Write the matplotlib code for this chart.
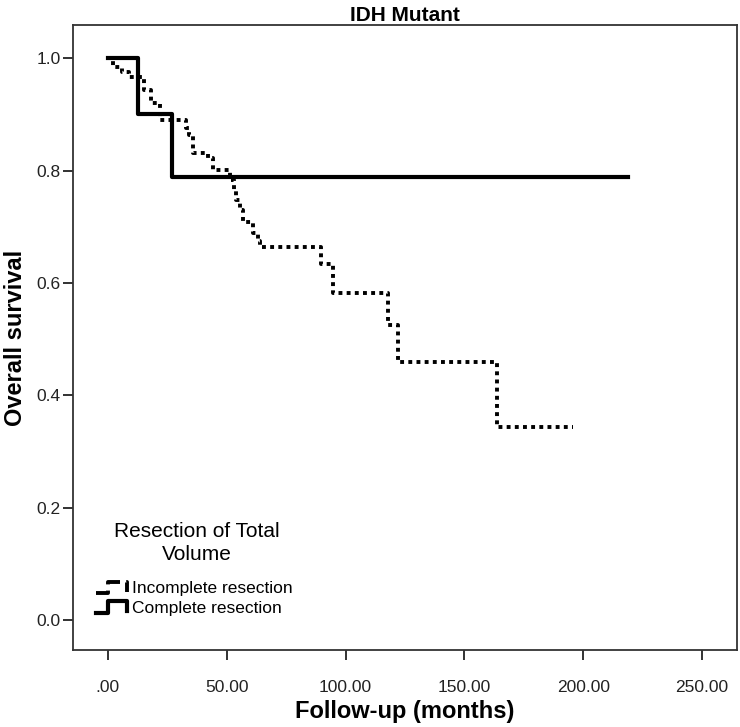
import matplotlib.pyplot as plt
from matplotlib.lines import Line2D
from matplotlib.legend_handler import HandlerBase

# Datos (Kaplan-Meier, IDH mutante)
t_incompleta = [0, 2, 6, 9, 15, 18, 22, 33, 34, 36, 42, 44, 51.5, 53, 54,
                55.5, 57, 61, 63, 64, 89.5, 94.7, 117.8, 122, 163.8, 195.7]
s_incompleta = [1.0, 0.984, 0.975, 0.966, 0.943, 0.920, 0.890, 0.875, 0.863,
                0.831, 0.822, 0.801, 0.783, 0.765, 0.747, 0.730, 0.708, 0.689,
                0.675, 0.664, 0.633, 0.582, 0.525, 0.459, 0.343, 0.343]

t_completa = [0, 12.6, 27.0, 219.0]
s_completa = [1.0, 0.900, 0.788, 0.788]

xticks = [0, 50, 100, 150, 200, 250]
xticklabels = [".00", "50.00", "100.00", "150.00", "200.00", "250.00"]
yticks = [0.0, 0.2, 0.4, 0.6, 0.8, 1.0]

plt.rcParams['font.family'] = ['Liberation Sans', 'DejaVu Sans']
fuente_titulo = ['Liberation Sans Narrow', 'Liberation Sans', 'DejaVu Sans']

W, H = 740, 727  # tamaño en píxeles


class HandlerEscalon(HandlerBase):
    """Icono de leyenda con forma de escalón, como en SPSS."""
    def create_artists(self, legend, orig_handle, xdescent, ydescent,
                       width, height, fontsize, trans):
        xs = [0, 0.35 * width, 0.35 * width, 0.9 * width, 0.9 * width]
        ys = [0.1 * height, 0.1 * height, 0.9 * height, 0.9 * height, 0.2 * height]
        ln = Line2D([x - xdescent for x in xs], [y - ydescent for y in ys],
                    color=orig_handle.get_color(),
                    linestyle=orig_handle.get_linestyle(),
                    linewidth=orig_handle.get_linewidth(),
                    transform=trans)
        ln.set_dash_capstyle('butt')
        return [ln]


fig = plt.figure(figsize=(W / 100, H / 100), dpi=100)
ax = fig.add_axes([73 / W, 1 - 650 / H, 664 / W, 625 / H])

l1, = ax.step(t_incompleta, s_incompleta, where='post', color='black',
              linewidth=2.8, linestyle=(0, (1, 1.1)), label='Incomplete resection')
l1.set_dash_capstyle('butt')
l2, = ax.step(t_completa, s_completa, where='post', color='black',
              linewidth=3.0, label='Complete resection')

ax.set_xlim(-14.7, 264.7)
ax.set_ylim(-0.053, 1.059)
ax.set_xticks(xticks)
ax.set_xticklabels(xticklabels)
ax.set_yticks(yticks)
ax.set_yticklabels([f"{v:.1f}" for v in yticks])
ax.tick_params(direction='out', length=7.5, width=1.3, labelsize=12.5, colors='#222222')
ax.tick_params(axis='x', pad=14)
ax.tick_params(axis='y', pad=1.5)

for sp in ax.spines.values():
    sp.set_linewidth(1.3)
    sp.set_color('#333333')

ax.set_title("IDH Mutant", fontsize=15, fontweight='bold', family=fuente_titulo, pad=3)
ax.set_xlabel("Follow-up (months)", fontsize=17, fontweight='bold', family=fuente_titulo, labelpad=4)
ax.set_ylabel("Overall survival", fontsize=17, fontweight='bold', family=fuente_titulo)
ax.yaxis.set_label_coords((27 - 73) / 664, 0.5)

# Título de la leyenda aparte, centrado como en SPSS
fig.text(197 / W, 1 - 543 / H, "Resection of Total\nVolume", ha='center', va='center',
         multialignment='center', fontsize=15, linespacing=1.25)

ax.legend(handles=[l1, l2], loc='center left',
          bbox_to_anchor=(96 / W, 1 - 598 / H), bbox_transform=fig.transFigure,
          frameon=False, fontsize=12.5, handlelength=2.0, handleheight=0.9,
          handletextpad=0.05, labelspacing=0.2, borderpad=0, borderaxespad=0,
          handler_map={Line2D: HandlerEscalon()})

fig.savefig("out.png", dpi=100)
